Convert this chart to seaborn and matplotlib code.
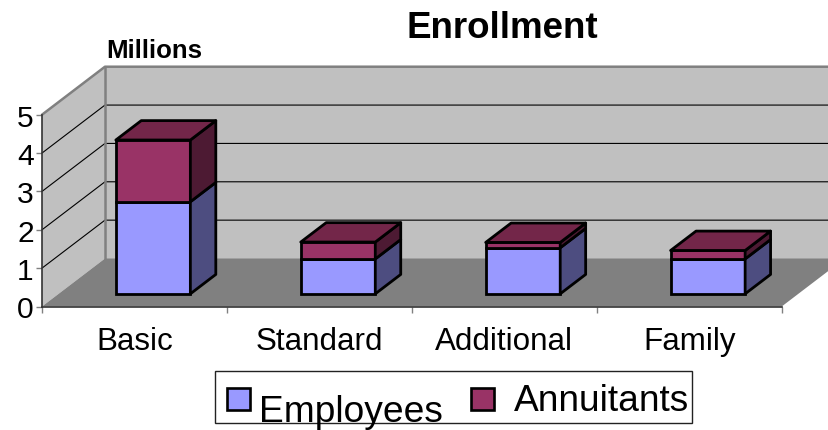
import matplotlib
matplotlib.use("Agg")
import matplotlib.pyplot as plt
from matplotlib.patches import Polygon, Rectangle
from matplotlib.transforms import Affine2D
import pandas as pd
import seaborn as sns

categories = ["Basic", "Standard", "Additional", "Family"]
employees = [2.40, 0.91, 1.20, 0.91]
annuitants = [1.61, 0.44, 0.14, 0.22]
y_ticks = [0, 1, 2, 3, 4, 5]

W, H = 829, 431
sns.set_style("white")
plt.rcParams["font.family"] = ["Liberation Sans", "DejaVu Sans"]

fig = plt.figure(figsize=(W / 100, H / 100), dpi=100, facecolor="white")
ax = fig.add_axes([42 / W, (H - 307.5) / H, 739.7 / W, 191.8 / H])

df = pd.DataFrame({"cat": categories, "emp": employees, "ann": annuitants})
BAR_W = 0.403
DX, DY = 0.3405, 1.251      # full chart depth in data units
D0, D1 = 0.296, 0.70        # bar front/back depth fraction
DROP = -0.04                # small downward nudge of the bars
EMP, ANN = "#9999FF", "#993366"
EMP_SIDE, ANN_SIDE, ANN_TOP = "#4D4D80", "#4D1A33", "#732649"
LW = 2.0

sns.barplot(data=df, x="cat", y="emp", color=EMP, saturation=1, width=BAR_W,
            edgecolor="black", linewidth=LW, ax=ax, zorder=5)
sns.barplot(data=df, x="cat", y="ann", bottom=df["emp"].to_numpy(), color=ANN,
            saturation=1, width=BAR_W, edgecolor="black", linewidth=LW, ax=ax, zorder=5)
ax.set_xlim(-0.5, 3.5)
ax.set_ylim(0, 5)
for p in ax.patches:
    p.set_transform(Affine2D().translate(D0 * DX, D0 * DY + DROP) + ax.transData)
    p.set_clip_on(False)


def P(x, y, d):
    return (x + d * DX, y + d * DY)


def B(x, y, d):
    return (x + d * DX, y + d * DY + DROP)


def poly(pts, fc, ec="none", lw=0, z=1):
    ax.add_patch(Polygon(pts, closed=True, facecolor=fc, edgecolor=ec, linewidth=lw,
                         zorder=z, clip_on=False, joinstyle="round"))


x0, x1, ymax = -0.5, 3.5, y_ticks[-1]
# left wall, back wall, floor
poly([P(x0, 0, 0), P(x0, ymax, 0), P(x0, ymax, 1), P(x0, 0, 1)], "#C0C0C0", z=1)
poly([P(x0, 0, 1), P(x0, ymax, 1), P(x1, ymax, 1), P(x1, 0, 1)], "#C0C0C0", z=1)
poly([P(x0, 0, 0), P(x0, 0, 1), P(x1, 0, 1), P(x1, 0, 0)], "#808080", z=1.2)
# wall edges
ax.plot(*zip(P(x0, ymax, 0), P(x0, ymax, 1), P(x1, ymax, 1)), color="#808080", lw=1.8,
        clip_on=False, zorder=1.6)
ax.plot(*zip(P(x0, 0, 1), P(x0, ymax, 1)), color="#808080", lw=1.8, clip_on=False, zorder=1.6)
# gridlines
for t in y_ticks[1:-1]:
    ax.plot(*zip(P(x0, t, 0), P(x0, t, 1), P(x1, t, 1)), color="black", lw=0.8,
            clip_on=False, zorder=1.5)

# bar side and top faces
for i in range(len(categories)):
    xr = i + BAR_W / 2
    xl = i - BAR_W / 2
    e, a = employees[i], annuitants[i]
    poly([B(xr, 0, D0), B(xr, e, D0), B(xr, e, D1), B(xr, 0, D1)], EMP_SIDE, "black", LW, 5)
    poly([B(xr, e, D0), B(xr, e + a, D0), B(xr, e + a, D1), B(xr, e, D1)], ANN_SIDE, "black", LW, 5)
    poly([B(xl, e + a, D0), B(xl, e + a, D1), B(xr, e + a, D1), B(xr, e + a, D0)], ANN_TOP, "black", LW, 5)

# axes styling
for s in ("top", "right"):
    ax.spines[s].set_visible(False)
for s in ("left", "bottom"):
    ax.spines[s].set_color("#333333")
    ax.spines[s].set_linewidth(1.2)
    ax.spines[s].set_zorder(1.7)
ax.set_yticks(y_ticks)
ax.set_xticks([-0.5, 0.5, 1.5, 2.5, 3.5], minor=False, labels=["", "", "", "", ""])
ax.set_xticks(range(4), labels=categories, minor=True)
ax.tick_params(axis="x", which="major", length=4, width=1, color="#808080", bottom=True)
ax.tick_params(axis="x", which="minor", length=0, pad=14, labelsize=22.6, bottom=True, labelcolor="black")
ax.tick_params(axis="y", length=4, width=1, color="#808080", pad=2, labelsize=21.6, left=True, labelcolor="black")
ax.set_xlabel("")
ax.set_ylabel("")


def px(x, y):
    return x / W, 1 - y / H


fig.text(*px(502, 38), "Enrollment", fontsize=26.5, fontweight="bold", ha="center", va="baseline", color="black")
fig.text(*px(154, 58), "Millions", fontsize=18.6, fontweight="bold", ha="center", va="baseline", color="black")

# legend
def frect(x, y, w, h, fc, ec, lw):
    fig.add_artist(Rectangle(px(x, y + h), w / W, h / H, transform=fig.transFigure,
                             facecolor=fc, edgecolor=ec, linewidth=lw))


frect(215, 372, 477, 52, "white", "#222222", 1.0)
frect(227, 389, 23, 22, EMP, "black", 1.9)
frect(471, 389, 23, 22, ANN, "black", 1.9)
fig.text(*px(259, 422), "Employees", fontsize=26.7, ha="left", va="baseline", color="black")
fig.text(*px(514, 411), "Annuitants", fontsize=26.7, ha="left", va="baseline", color="black")

fig.savefig("out.png", dpi=100)
